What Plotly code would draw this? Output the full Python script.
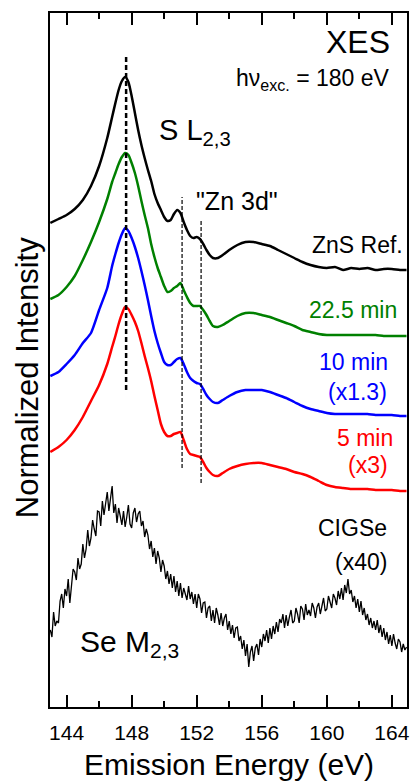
import numpy as np
import plotly.graph_objects as go

# Emission energy grid (eV) for the smooth S L2,3 spectra
energy = [143.0, 143.5, 144.0, 144.5, 145.0, 145.5, 146.0, 146.5, 146.8,
          147.0, 147.2, 147.4, 147.6, 147.8, 148.0, 148.2, 148.4, 148.6, 148.8,
          149.0, 149.2, 149.4, 149.6, 149.8, 150.0, 150.2, 150.4, 150.6, 150.8,
          151.0, 151.2, 151.4, 151.6, 151.8, 152.0, 152.2, 152.4, 152.6, 152.8,
          153.0, 153.3, 153.6, 154.0, 154.5, 155.0, 155.5, 156.0, 156.5, 157.0,
          157.5, 158.0, 158.5, 159.0, 159.5, 160.0, 160.5, 161.0, 161.5, 162.0,
          162.5, 163.0, 163.5, 164.0, 164.5, 164.9]

# Normalized intensity (stacked, arbitrary units)
zns_ref = [484, 488, 492, 498, 507, 521, 541, 569, 590, 604,
           617, 626, 630, 625, 611, 594, 577, 562, 549, 537,
           526, 513, 504, 497, 490, 486, 487, 493, 497, 494,
           485, 477, 471, 469, 470, 468, 463, 457, 452, 449,
           449, 452, 457, 462, 465, 465, 463, 461, 457, 453,
           449, 445, 442, 440, 439, 440, 437, 439, 438, 439,
           437, 438, 438, 437, 437]
min_22_5 = [408, 412, 420, 431, 447, 465, 485, 508, 525, 534,
            543, 550, 554, 552, 544, 534, 521, 506, 492, 479,
            463, 450, 439, 430, 421, 415, 416, 419, 421, 424,
            417, 410, 404, 401, 401, 401, 397, 392, 386, 381,
            380, 382, 386, 391, 394, 394, 392, 390, 387, 384,
            381, 377, 375, 373, 372, 372, 372, 372, 372, 372,
            372, 371, 371, 371, 371]
min_10 = [331, 335, 343, 352, 364, 374, 397, 419, 441, 453,
          464, 473, 479, 476, 469, 460, 449, 436, 422, 407,
          391, 376, 364, 354, 345, 342, 342, 345, 348, 349,
          343, 335, 329, 326, 324, 323, 318, 312, 308, 305,
          304, 307, 311, 315, 317, 317, 317, 315, 312, 309,
          305, 301, 298, 296, 294, 293, 293, 293, 293, 293,
          292, 292, 292, 291, 291]
min_5 = [255, 260, 267, 277, 290, 306, 322, 343, 360, 371,
         383, 393, 400, 398, 392, 385, 376, 364, 351, 339,
         326, 311, 297, 283, 275, 271, 271, 273, 274, 275,
         267, 258, 253, 252, 251, 250, 245, 239, 235, 232,
         231, 234, 238, 241, 243, 244, 244, 242, 240, 238,
         235, 233, 230, 226, 222, 220, 219, 218, 218, 218,
         217, 217, 217, 216, 216]

# CIGSe Se M2,3 spectrum (x40), 0.1 eV steps from 143.0 to 164.9 eV
cigse_energy = np.round(np.arange(1430, 1650) / 10, 1)
cigse = [77, 70, 95, 81, 86, 84, 106, 113, 99, 118,
         111, 128, 104, 122, 138, 135, 127, 149, 138, 143,
         163, 149, 158, 177, 161, 169, 187, 178, 171, 196,
         195, 181, 206, 192, 204, 215, 196, 208, 221, 194,
         203, 184, 199, 191, 182, 196, 180, 190, 202, 183,
         179, 194, 199, 185, 193, 196, 181, 186, 170, 178,
         172, 158, 166, 150, 159, 143, 156, 149, 135, 147,
         141, 128, 136, 123, 133, 119, 131, 115, 126, 111,
         124, 109, 119, 113, 107, 121, 108, 115, 103, 113,
         99, 113, 108, 94, 104, 105, 89, 99, 101, 86,
         97, 84, 99, 92, 82, 94, 81, 89, 93, 77,
         86, 73, 82, 69, 79, 80, 66, 71, 58, 67,
         51, 63, 40, 55, 61, 46, 59, 63, 52, 68,
         60, 73, 66, 77, 64, 79, 68, 81, 73, 85,
         75, 88, 84, 93, 79, 92, 81, 90, 97, 84,
         86, 99, 93, 84, 101, 98, 87, 103, 92, 97,
         91, 104, 99, 89, 100, 104, 93, 101, 109, 96,
         98, 111, 104, 99, 113, 109, 102, 116, 108, 119,
         107, 122, 114, 128, 113, 117, 105, 111, 99, 108,
         95, 106, 92, 99, 87, 93, 82, 89, 79, 86,
         77, 87, 74, 82, 70, 79, 67, 75, 63, 72,
         61, 73, 64, 58, 68, 65, 55, 63, 57, 60]

# Reference peak markers (eV) and their vertical extents
main_peak_e = 147.66
main_peak_span = [317, 650]
zn3d_e = [151.1, 152.27]
zn3d_spans = [[239, 510], [224, 488]]

x_ticks = [144, 148, 152, 156, 160, 164]
x_minor = [146, 150, 154, 158, 162]

FONT = "Liberation Sans, Arial, sans-serif"

fig = go.Figure()
series = [(zns_ref, "black"), (min_22_5, "#008000"), (min_10, "#0000ff"), (min_5, "#ff0000")]
for ys, col in series:
    fig.add_trace(go.Scatter(x=energy, y=ys, mode="lines",
                             line=dict(color=col, width=2.5, shape="spline", smoothing=0.6),
                             showlegend=False, hoverinfo="skip"))
fig.add_trace(go.Scatter(x=cigse_energy, y=cigse, mode="lines",
                         line=dict(color="black", width=1.3),
                         showlegend=False, hoverinfo="skip"))

fig.add_trace(go.Scatter(x=[main_peak_e, main_peak_e], y=main_peak_span, mode="lines",
                         line=dict(color="black", width=2.5, dash="5px,3px"),
                         showlegend=False, hoverinfo="skip"))
for e, span in zip(zn3d_e, zn3d_spans):
    fig.add_trace(go.Scatter(x=[e, e], y=span, mode="lines",
                             line=dict(color="black", width=1.2, dash="4px,2px"),
                             showlegend=False, hoverinfo="skip"))

def ann(text, x, y, size, color="black", xanchor="right", yanchor="middle"):
    fig.add_annotation(text=text, x=x, y=y, xref="x", yref="y", showarrow=False,
                       xanchor=xanchor, yanchor=yanchor,
                       font=dict(family=FONT, size=size, color=color))

ann("XES", 164.03, 665, 32)
ann("h\u03bd<sub>exc.</sub> = 180 eV", 164.03, 628, 23)
ann("S L<sub>2,3</sub>", 149.58, 575, 29, xanchor="left")
ann("\"Zn 3d\"", 151.85, 506, 25, xanchor="left")
ann("ZnS Ref.", 164.8, 462, 23)
ann("22.5 min", 164.45, 397, 23, color="#008000")
ann("10 min", 163.9, 345, 23, color="#0000ff")
ann("(x1.3)", 163.84, 315, 23, color="#0000ff")
ann("5 min", 164.2, 269, 23, color="#ff0000")
ann("(x3)", 163.9, 242, 23, color="#ff0000")
ann("CIGSe", 163.84, 179, 23)
ann("(x40)", 163.84, 145, 23)
ann("Se M<sub>2,3</sub>", 144.69, 64, 30, xanchor="left")

fig.add_annotation(text="Normalized Intensity", xref="paper", yref="paper",
                   x=-0.064, y=0.474, textangle=-90, showarrow=False,
                   xanchor="center", yanchor="middle",
                   font=dict(family=FONT, size=31, color="black"))
fig.add_annotation(text="Emission Energy (eV)", xref="paper", yref="paper",
                   x=0.5, y=-0.1095, showarrow=False, xanchor="center", yanchor="bottom",
                   font=dict(family=FONT, size=30, color="black"))

fig.update_xaxes(range=[142.98, 164.93], tickmode="array", tickvals=x_ticks,
                 ticks="inside", ticklen=12, tickwidth=2, tickcolor="black",
                 minor=dict(tickvals=x_minor, ticks="inside", ticklen=6, tickwidth=2, tickcolor="black"),
                 showline=True, linewidth=2, linecolor="black", mirror="ticks",
                 showgrid=False, zeroline=False, ticklabelstandoff=6,
                 tickfont=dict(family=FONT, size=21, color="black"))
fig.update_yaxes(range=[0, 694], showline=True, linewidth=2, linecolor="black", mirror=True,
                 showticklabels=False, ticks="", showgrid=False, zeroline=False)

fig.update_layout(width=415, height=783, margin=dict(l=50, r=5, t=13, b=76),
                  plot_bgcolor="white", paper_bgcolor="white", showlegend=False)

fig.write_html("out.html")
